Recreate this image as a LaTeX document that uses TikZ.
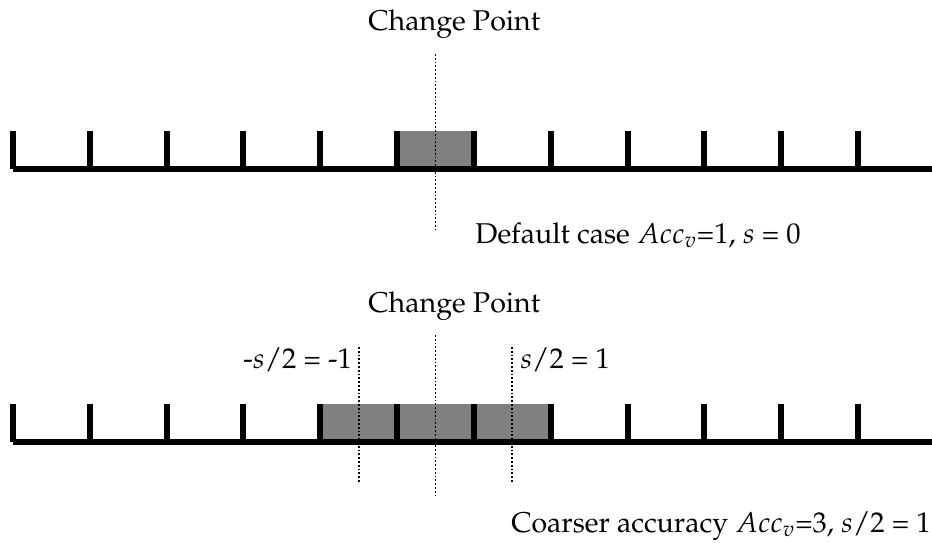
\documentclass[tikz,border=0pt]{standalone}
\usepackage[T1]{fontenc}
\usepackage{mathpazo}
\tikzset{
    ruler/.style      = {line width=3pt},
    window/.style     = {fill=gray},
    marker/.style     = {densely dotted, line width=0.9pt},
    caption/.style    = {inner sep=0pt,
                         font=\fontsize{14.3}{17}\selectfont}
}
\def\tickgap{76.82}
\def\tickheight{38}
\def\toprow{168.5}
\def\bottomrow{441.5}

\begin{document}
\begin{tikzpicture}[x=0.5pt, y=-0.5pt]
\clip (0,0) rectangle (932,542);

% Default case: one cell around the change point.
\fill[window] (13+5*\tickgap,\toprow-\tickheight)
    rectangle (13+6*\tickgap,\toprow);
\draw[ruler] (13,\toprow) -- (945,\toprow);
\foreach \i in {0,...,12}
    \draw[ruler] (13+\i*\tickgap,\toprow)
        -- ++(0,-\tickheight);
\node[caption, anchor=base west] (cptop) at (368,30) {Change Point};
\coordinate (cptopa) at (435.5,54);
\coordinate (cptopb) at (435.5,230);
\draw[marker] (cptopa) -- (cptopb);
\node[caption, anchor=base west] (default) at (475,243)
    {Default case $Acc_v$=1, $s$ = 0};

% Coarser accuracy: three cells, widened by s/2 on each side.
\fill[window] (13+4*\tickgap,\bottomrow-\tickheight)
    rectangle (13+7*\tickgap,\bottomrow);
\draw[ruler] (13,\bottomrow) -- (945,\bottomrow);
\foreach \i in {0,...,12}
    \draw[ruler] (13+\i*\tickgap,\bottomrow)
        -- ++(0,-\tickheight);
\node[caption, anchor=base west] (cpbottom) at (368,312) {Change Point};
\node[caption, anchor=base west] (lower) at (243,368) {-$s$/2 = -1};
\node[caption, anchor=base west] (upper) at (520,368) {$s$/2 = 1};
\coordinate (centera) at (435.5,335);
\coordinate (centerb) at (435.5,498);
\coordinate (lowera) at (358.7,347);
\coordinate (lowerb) at (358.7,482);
\coordinate (uppera) at (512.3,347);
\coordinate (upperb) at (512.3,482);
\draw[marker] (centera) -- (centerb);
\draw[marker] (lowera) -- (lowerb);
\draw[marker] (uppera) -- (upperb);
\node[caption, anchor=base east] (coarser) at (931,532)
    {Coarser accuracy $Acc_v$=3, $s$/2 = 1};

\end{tikzpicture}
\end{document}
